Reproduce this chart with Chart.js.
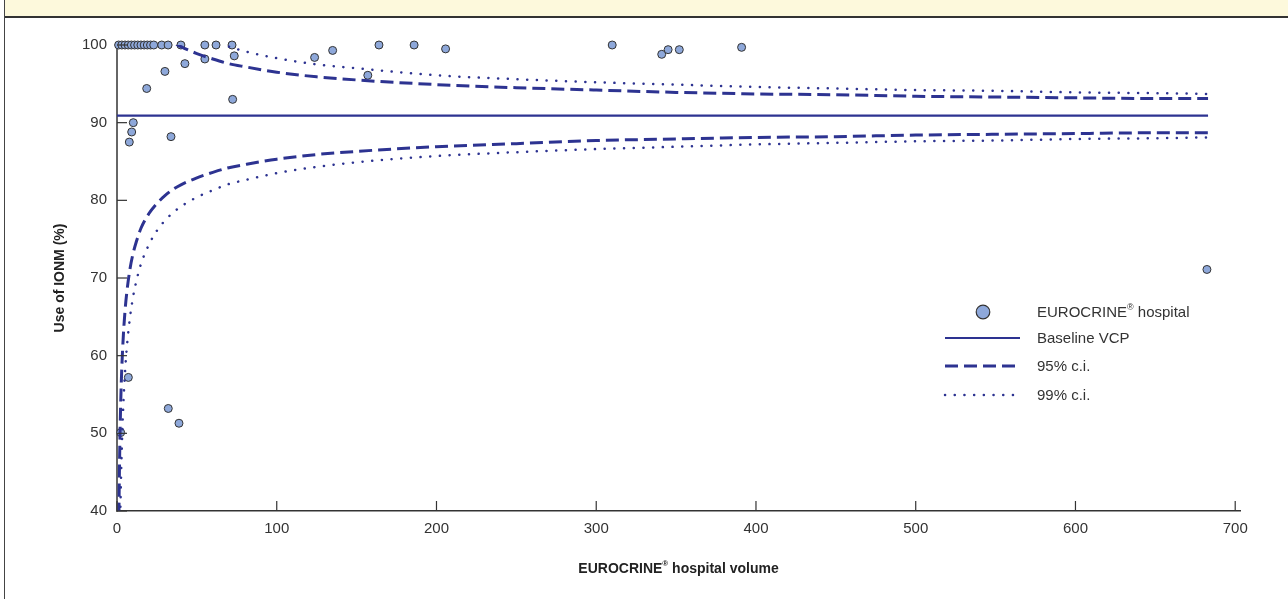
<!DOCTYPE html>
<html>
<head>
<meta charset="utf-8">
<script src="https://cdn.jsdelivr.net/npm/chart.js@4"></script>
<style>
  body { margin: 0; background: #fff; }
  #wrap { position: relative; width: 1288px; height: 599px; overflow: hidden; }
  #banner { position: absolute; left: 4px; top: 0; width: 1284px; height: 16px; background: #fdf9dc; border-bottom: 2px solid #333; }
  #frame { position: absolute; left: 4px; top: 0; width: 0; height: 599px; border-left: 1px solid #444; }
  canvas { position: absolute; left: 0; top: 0; }
</style>
</head>
<body>
<div id="wrap">
  <canvas id="grafica" width="1288" height="599"></canvas>
  <div id="banner"></div>
  <div id="frame"></div>
</div>
<script>
// hospitals: volume and % IONM use
const hospVolume = [1, 3, 5, 7, 9, 11, 13, 15, 17, 19, 21, 23, 28, 32, 40, 55, 62, 72,
  42.5, 55, 73.4, 30, 18.6, 72.4, 10.2, 9.2, 7.7, 33.8,
  123.7, 135, 164, 186, 205.7, 157, 310, 341, 345, 352, 391, 682.3,
  7.1, 32.1, 38.8, 2.3];
const hospIonm = [100, 100, 100, 100, 100, 100, 100, 100, 100, 100, 100, 100, 100, 100, 100, 100, 100, 100,
  97.6, 98.2, 98.6, 96.6, 94.4, 93.0, 90.0, 88.8, 87.5, 88.2,
  98.4, 99.3, 100, 100, 99.5, 96.1, 100, 98.8, 99.4, 99.4, 99.7, 71.1,
  57.2, 53.2, 51.3, 50.1];

const baselineVolume = [0, 683];
const baselineIonm = [90.9, 90.9];

// control limits
const ciVolume = [1, 1.25, 1.5, 2, 2.5, 3, 4, 5, 6, 8, 10, 12, 15, 20, 25, 30, 35, 40, 50, 60, 70, 80, 100, 125, 150, 200, 250, 300, 350, 400, 450, 500, 550, 600, 650, 683];
const lower95 = [34.5, 40.5, 44.9, 51.0, 55.3, 58.4, 62.7, 65.7, 67.9, 71.0, 73.1, 74.6, 76.4, 78.3, 79.6, 80.6, 81.4, 82.0, 82.9, 83.6, 84.2, 84.6, 85.3, 85.9, 86.3, 86.9, 87.3, 87.7, 87.9, 88.1, 88.2, 88.4, 88.5, 88.6, 88.7, 88.7];
const upper95 = [147, 141, 137, 131, 126, 123, 119, 116, 114, 111, 108.7, 107.2, 105.5, 103.5, 102.2, 101.2, 100.4, 99.8, 98.9, 98.2, 97.6, 97.2, 96.5, 95.9, 95.5, 94.9, 94.5, 94.2, 93.9, 93.7, 93.6, 93.4, 93.3, 93.2, 93.1, 93.1];
const lower99 = [16.8, 24.6, 30.4, 38.5, 44.1, 48.1, 53.9, 57.8, 60.7, 64.7, 67.5, 69.5, 71.8, 74.3, 76.1, 77.4, 78.4, 79.2, 80.4, 81.3, 82.1, 82.6, 83.5, 84.3, 84.9, 85.7, 86.2, 86.6, 86.9, 87.2, 87.4, 87.6, 87.7, 87.9, 88.0, 88.1];
const upper99 = [165, 157, 151, 143, 138, 134, 128, 124, 121, 117, 114.3, 112.3, 110.0, 107.5, 105.7, 104.4, 103.4, 102.6, 101.4, 100.5, 99.8, 99.2, 98.3, 97.5, 97.0, 96.1, 95.6, 95.2, 94.9, 94.6, 94.4, 94.2, 94.1, 93.9, 93.8, 93.7];

const xTicks = [0, 100, 200, 300, 400, 500, 600, 700];
const yTicks = [40, 50, 60, 70, 80, 90, 100];

const navy = '#2d3391';
const dotFill = '#8ea8da';
const FONT = '"Liberation Sans", Arial, sans-serif';

function pts(xs, ys) {
  return xs.map((x, i) => ({x: x, y: ys[i]}));
}

// text with a small raised (R) mark; parts = [before, after]
function supText(ctx, parts, x, y, size, bold, align) {
  const w = bold ? 'bold ' : '';
  ctx.font = w + size + 'px ' + FONT;
  const w1 = ctx.measureText(parts[0]).width;
  const w3 = ctx.measureText(parts[1]).width;
  ctx.font = w + Math.round(size * 0.6) + 'px ' + FONT;
  const w2 = ctx.measureText('\u00AE').width;
  let x0 = align === 'center' ? x - (w1 + w2 + w3) / 2 : x;
  ctx.textAlign = 'left';
  ctx.font = w + size + 'px ' + FONT;
  ctx.fillText(parts[0], x0, y);
  ctx.font = w + Math.round(size * 0.6) + 'px ' + FONT;
  ctx.fillText('\u00AE', x0 + w1, y - size * 0.35);
  ctx.font = w + size + 'px ' + FONT;
  ctx.fillText(parts[1], x0 + w1 + w2, y);
}

const lineDefaults = {
  type: 'line', showLine: true, pointRadius: 0, borderColor: navy, fill: false,
  cubicInterpolationMode: 'monotone'
};

// ticks drawn inside the plot, x title, and the legend inside the plot
const extras = {
  id: 'extras',
  afterDraw(chart) {
    const ctx = chart.ctx;
    const xs = chart.scales.x, ys = chart.scales.y;
    const area = chart.chartArea;
    ctx.save();
    ctx.strokeStyle = '#333';
    ctx.lineWidth = 1.2;
    yTicks.forEach(v => {
      const py = ys.getPixelForValue(v);
      ctx.beginPath(); ctx.moveTo(area.left, py); ctx.lineTo(area.left + 10, py); ctx.stroke();
    });
    xTicks.forEach(v => {
      const px = xs.getPixelForValue(v);
      ctx.beginPath(); ctx.moveTo(px, area.bottom); ctx.lineTo(px, area.bottom - 10); ctx.stroke();
    });

    ctx.textBaseline = 'middle';
    ctx.fillStyle = '#222';
    supText(ctx, ['EUROCRINE', ' hospital volume'], (area.left + area.right) / 2, 569, 14, true, 'center');

    // legend
    const lx0 = 945, lx1 = 1020, tx = 1037;
    const rows = [312, 338, 366, 395];
    chart.data.datasets.forEach((ds, i) => {
      if (ds.legendRow === undefined) return;
      const y = rows[ds.legendRow];
      if (ds.legendRow === 0) {
        ctx.beginPath(); ctx.arc(983, y, 6.8, 0, Math.PI * 2);
        ctx.fillStyle = dotFill; ctx.fill();
        ctx.lineWidth = 1.2; ctx.strokeStyle = '#333'; ctx.stroke();
      } else {
        ctx.beginPath();
        ctx.setLineDash(ds.borderDash || []);
        ctx.lineCap = ds.borderCapStyle || 'butt';
        ctx.lineWidth = ds.borderWidth; ctx.strokeStyle = navy;
        ctx.moveTo(lx0, y); ctx.lineTo(lx1, y); ctx.stroke();
        ctx.setLineDash([]);
      }
      ctx.fillStyle = '#333';
      if (ds.legendRow === 0) {
        supText(ctx, ['EUROCRINE', ' hospital'], tx, y + 1, 15, false, 'left');
      } else {
        ctx.font = '15px ' + FONT;
        ctx.textAlign = 'left';
        ctx.fillText(ds.label, tx, y + 1);
      }
    });
    ctx.restore();
  }
};

const ctx = document.getElementById('grafica');
const migrafica = new Chart(ctx, {
  type: 'scatter',
  data: {
    datasets: [
      Object.assign({}, lineDefaults, {label: '99% c.i.', legendRow: 3, data: pts(ciVolume, upper99), borderWidth: 2.5, borderDash: [0.1, 9.6], borderCapStyle: 'round'}),
      Object.assign({}, lineDefaults, {label: '99% c.i. lower', data: pts(ciVolume, lower99), borderWidth: 2.5, borderDash: [0.1, 9.6], borderCapStyle: 'round'}),
      Object.assign({}, lineDefaults, {label: '95% c.i.', legendRow: 2, data: pts(ciVolume, upper95), borderWidth: 3, borderDash: [13, 6]}),
      Object.assign({}, lineDefaults, {label: '95% c.i. lower', data: pts(ciVolume, lower95), borderWidth: 3, borderDash: [13, 6]}),
      Object.assign({}, lineDefaults, {label: 'Baseline VCP', legendRow: 1, data: pts(baselineVolume, baselineIonm), borderWidth: 2.2}),
      {
        label: 'EUROCRINE\u00AE hospital', legendRow: 0,
        data: pts(hospVolume, hospIonm),
        pointRadius: 4, pointBackgroundColor: dotFill, pointBorderColor: '#333', pointBorderWidth: 1,
        clip: false
      }
    ]
  },
  options: {
    responsive: false,
    animation: false,
    layout: { padding: { top: 45, right: 48, left: 0, bottom: 0 } },
    plugins: { legend: { display: false }, tooltip: { enabled: false } },
    scales: {
      x: {
        type: 'linear', min: 0, max: 703,
        afterFit(s) { s.height = 88; },
        afterBuildTicks(s) { s.ticks = xTicks.map(v => ({value: v})); },
        grid: { display: false, drawTicks: false },
        border: { display: true, color: '#333', width: 1.5 },
        ticks: { padding: 9, color: '#333', font: { family: FONT, size: 15 } },
        title: { display: false }
      },
      y: {
        type: 'linear', min: 40, max: 100,
        afterFit(s) { s.width = 117; },
        afterBuildTicks(s) { s.ticks = yTicks.map(v => ({value: v})); },
        grid: { display: false, drawTicks: false },
        border: { display: true, color: '#666', width: 2 },
        ticks: { padding: 10, color: '#333', font: { family: FONT, size: 15 } },
        title: { display: true, text: 'Use of IONM (%)', color: '#222',
          padding: { top: 52, bottom: 0 }, font: { family: FONT, size: 14, weight: 'bold' } }
      }
    }
  },
  plugins: [extras]
});
</script>
</body>
</html>
